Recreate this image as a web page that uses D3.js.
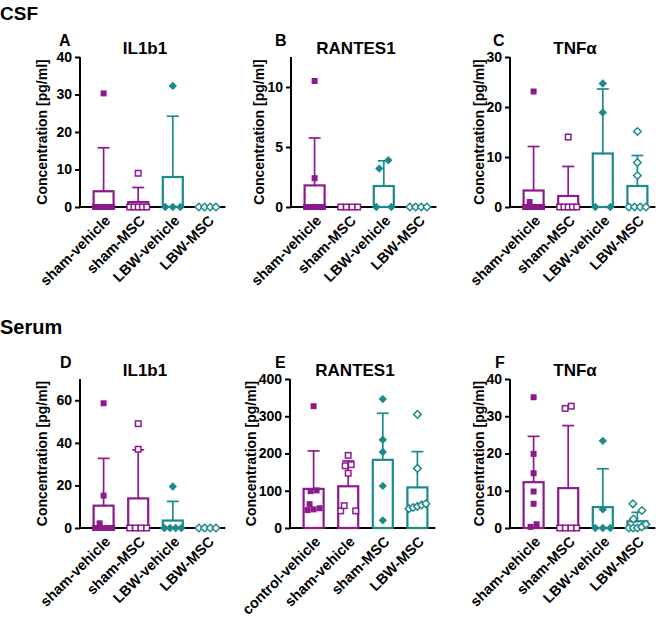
<!DOCTYPE html>
<html>
<head>
<meta charset="utf-8">
<script src="https://cdn.jsdelivr.net/npm/d3@7/dist/d3.min.js"></script>
<style>
  html, body { margin: 0; padding: 0; background: #fff; }
  svg text { font-family: "Liberation Sans", Arial, Helvetica, sans-serif; font-weight: bold; fill: #000; }
</style>
</head>
<body>
<svg id="chart" width="660" height="617"></svg>
<script>
// ---------------- DATA ----------------
const groupsSham = ["sham-vehicle", "sham-MSC", "LBW-vehicle", "LBW-MSC"];
const groupsE = ["control-vehicle", "sham-vehicle", "sham-MSC", "LBW-MSC"];

// Panel A: CSF IL1b1
const aPoints = [[30.3, 0, 0, 0, 0, 0, 0], [9.0, 0, 0, 0, 0, 0], [32.3, 0, 0, 0], [0, 0, 0, 0]];
const aMean = [4.2, 1.3, 8.0, 0];
const aSD = [11.6, 3.9, 16.2, 0];
const aTicks = [0, 10, 20, 30, 40];

// Panel B: CSF RANTES1
const bPoints = [[10.5, 2.4, 0, 0, 0, 0, 0], [0, 0, 0, 0], [3.2, 3.9, 0, 0], [0, 0, 0, 0]];
const bMean = [1.8, 0, 1.75, 0];
const bSD = [3.95, 0, 2.1, 0];
const bTicks = [0, 5, 10];

// Panel C: CSF TNFα
const cPoints = [[23.1, 1.0, 0, 0, 0, 0, 0], [14.0, 0, 0, 0, 0, 0], [24.7, 18.9, 0, 0], [15.1, 8.9, 6.3, 0, 0, 0, 0]];
const cMean = [3.3, 2.2, 10.7, 4.2];
const cSD = [8.8, 5.9, 12.9, 6.1];
const cTicks = [0, 10, 20, 30];

// Panel D: Serum IL1b1
const dPoints = [[58.6, 15.2, 2.2, 0, 0, 0, 0], [49.0, 37.0, 0, 0, 0, 0], [19.5, 0, 0, 0, 0], [0, 0, 0, 0]];
const dMean = [10.5, 13.9, 3.5, 0];
const dSD = [22.2, 22.8, 9.0, 0];
const dTicks = [0, 20, 40, 60];

// Panel E: Serum RANTES1
const ePoints = [[327, 101, 99, 64, 48, 53, 50], [195, 170, 167, 147, 60, 46, 46], [346, 237, 204, 113, 20.5], [305, 160, 65, 62, 58, 55, 52]];
const eMean = [105, 112, 183, 109];
const eSD = [102, 68, 125, 96];
const eTicks = [0, 100, 200, 300, 400];

// Panel F: Serum TNFα
const fPoints = [[35.1, 19.9, 14.7, 9.8, 6.5, 0.3, 1.0], [32.1, 32.7, 0, 0, 0, 0], [23.4, 5.0, 0, 0, 0], [6.5, 4.7, 2.4, 1.0, 0.3, 0, 0, 0]];
const fMean = [12.3, 10.7, 5.6, 1.8];
const fSD = [12.3, 16.8, 10.3, 2.4];
const fTicks = [0, 10, 20, 30, 40];

const titles = ["IL1b1", "RANTES1", "TNFα", "IL1b1", "RANTES1", "TNFα"];
const letters = ["A", "B", "C", "D", "E", "F"];
const sections = ["CSF", "Serum"];
const yTitle = "Concentration [pg/ml]";

// ---------------- LAYOUT / STYLE ----------------
const PURPLE = "#8c1a8c";
const TEAL = "#1c8a8a";
const groupColor = [PURPLE, PURPLE, TEAL, TEAL];
const groupShape = ["square", "square", "diamond", "diamond"];
const groupFilled = [true, false, true, false];

const panels = [
  { groups: groupsSham, pts: aPoints, mean: aMean, sd: aSD, ticks: aTicks, max: 40,   x0: 80,  y0: 207, yTop: 57,  ytx: 42,  lx: 59 },
  { groups: groupsSham, pts: bPoints, mean: bMean, sd: bSD, ticks: bTicks, max: 12.5, x0: 291, y0: 207, yTop: 57,  ytx: 259, lx: 275 },
  { groups: groupsSham, pts: cPoints, mean: cMean, sd: cSD, ticks: cTicks, max: 30,   x0: 510, y0: 207, yTop: 57,  ytx: 479, lx: 493 },
  { groups: groupsSham, pts: dPoints, mean: dMean, sd: dSD, ticks: dTicks, max: 70,   x0: 80,  y0: 528, yTop: 379, ytx: 42,  lx: 60 },
  { groups: groupsE,    pts: ePoints, mean: eMean, sd: eSD, ticks: eTicks, max: 400,  x0: 290, y0: 528, yTop: 379, ytx: 251, lx: 275 },
  { groups: groupsSham, pts: fPoints, mean: fMean, sd: fSD, ticks: fTicks, max: 40,   x0: 510, y0: 528, yTop: 379, ytx: 479, lx: 495 }
];

const svg = d3.select("#chart");

svg.append("text").attr("x", 0).attr("y", 20).attr("font-size", 19).text(sections[0]);
svg.append("text").attr("x", 0).attr("y", 334).attr("font-size", 20).text(sections[1]);

const BAR_W = 20;
const STEP = 34.6;
const OFF = 23.6;

function layoutPoints(vals, y) {
  const items = vals.map(v => ({ v, py: y(v) })).sort((a, b) => b.py - a.py);
  const rows = [];
  items.forEach(it => {
    const last = rows[rows.length - 1];
    if (last && Math.abs(last[last.length - 1].py - it.py) < 3) last.push(it);
    else rows.push([it]);
  });
  const out = [];
  let prev = null;
  rows.forEach(row => {
    const k = row.length;
    if (k === 1) {
      let o = 0;
      if (prev && Math.abs(prev.py - row[0].py) < 9) {
        if (prev.k > 1) o = -4;
        else o = prev.o <= 0 ? 4.5 : -4.5;
        if (prev.k === 1 && prev.o === 0) { prev.item.dx = -4.5; o = 4.5; }
      }
      row[0].dx = o;
      out.push(row[0]);
      prev = { py: row[0].py, k: 1, o, item: row[0] };
    } else {
      const identical = row.every(r => Math.abs(r.v - row[0].v) < 1e-9);
      let w = identical ? (k <= 3 ? 15 : 17) : Math.min((k - 1) * 6, 17);
      row.forEach((r, i) => { r.dx = -w / 2 + (w * i) / (k - 1); out.push(r); });
      prev = { py: d3.mean(row, r => r.py), k, o: 0 };
    }
  });
  return out;
}

panels.forEach((p, pi) => {
  const g = svg.append("g");
  const y = d3.scaleLinear().domain([0, p.max]).range([p.y0, p.yTop]);
  const x = d3.scalePoint().domain(p.groups).range([p.x0 + OFF, p.x0 + OFF + 3 * STEP]);

  // y axis
  const yAxis = d3.axisLeft(y).tickValues(p.ticks).tickSize(5).tickPadding(3).tickFormat(d3.format("d"));
  const ya = g.append("g").attr("transform", `translate(${p.x0},0)`).call(yAxis);
  ya.select(".domain").attr("stroke", "#000").attr("stroke-width", 2).attr("d", `M0,${p.yTop}V${p.y0 + 1}`);
  ya.selectAll(".tick line").attr("stroke", "#000").attr("stroke-width", 2);
  ya.selectAll(".tick text").attr("font-size", 14).attr("font-family", "Liberation Sans, Arial, sans-serif").attr("font-weight", "bold").attr("fill", "#000");

  // x axis line
  g.append("line").attr("x1", p.x0 - 1).attr("x2", p.x0 + OFF + 3 * STEP + 18).attr("y1", p.y0).attr("y2", p.y0)
    .attr("stroke", "#000").attr("stroke-width", 2);

  // category labels
  p.groups.forEach(gr => {
    g.append("text")
      .attr("transform", `translate(${x(gr) + 4},${p.y0 + 11}) rotate(-45)`)
      .attr("text-anchor", "end").attr("dy", "0.35em").attr("font-size", 14.5).text(gr);
  });

  // titles
  g.append("text").attr("x", p.x0 + 65).attr("y", p.yTop - 3).attr("text-anchor", "middle").attr("font-size", 17).text(titles[pi]);
  g.append("text").attr("x", p.lx).attr("y", p.yTop - 11).attr("font-size", 16).text(letters[pi]);
  g.append("text").attr("transform", `translate(${p.ytx},${(p.yTop + p.y0) / 2}) rotate(-90)`)
    .attr("text-anchor", "middle").attr("dy", "0.35em").attr("font-size", 14).text(yTitle);

  // bars + error bars
  p.groups.forEach((gr, gi) => {
    const c = groupColor[gi];
    const m = p.mean[gi], s = p.sd[gi];
    if (m > 0) {
      g.append("rect").attr("x", x(gr) - BAR_W / 2).attr("width", BAR_W)
        .attr("y", y(m)).attr("height", p.y0 - y(m))
        .attr("fill", "#fff").attr("stroke", c).attr("stroke-width", 2.2);
      g.append("line").attr("x1", x(gr)).attr("x2", x(gr)).attr("y1", y(m)).attr("y2", y(m + s))
        .attr("stroke", c).attr("stroke-width", 1.7);
      g.append("line").attr("x1", x(gr) - 6).attr("x2", x(gr) + 6).attr("y1", y(m + s)).attr("y2", y(m + s))
        .attr("stroke", c).attr("stroke-width", 1.7);
    }
  });

  // points
  p.groups.forEach((gr, gi) => {
    const c = groupColor[gi];
    const filled = groupFilled[gi];
    const pts = layoutPoints(p.pts[gi], y);
    pts.forEach(pt => {
      const cx = x(gr) + pt.dx, cy = pt.py;
      if (groupShape[gi] === "square") {
        const sz = filled ? 6 : 5.5;
        g.append("rect").attr("x", cx - sz / 2).attr("y", cy - sz / 2).attr("width", sz).attr("height", sz)
          .attr("fill", filled ? c : "#fff").attr("stroke", c).attr("stroke-width", filled ? 0 : 1.5);
      } else {
        const r = filled ? 4.2 : 3.8;
        g.append("path").attr("d", `M${cx},${cy - r}L${cx + r},${cy}L${cx},${cy + r}L${cx - r},${cy}Z`)
          .attr("fill", filled ? c : "#fff").attr("stroke", c).attr("stroke-width", filled ? 0 : 1.5);
      }
    });
  });
});
</script>
</body>
</html>
